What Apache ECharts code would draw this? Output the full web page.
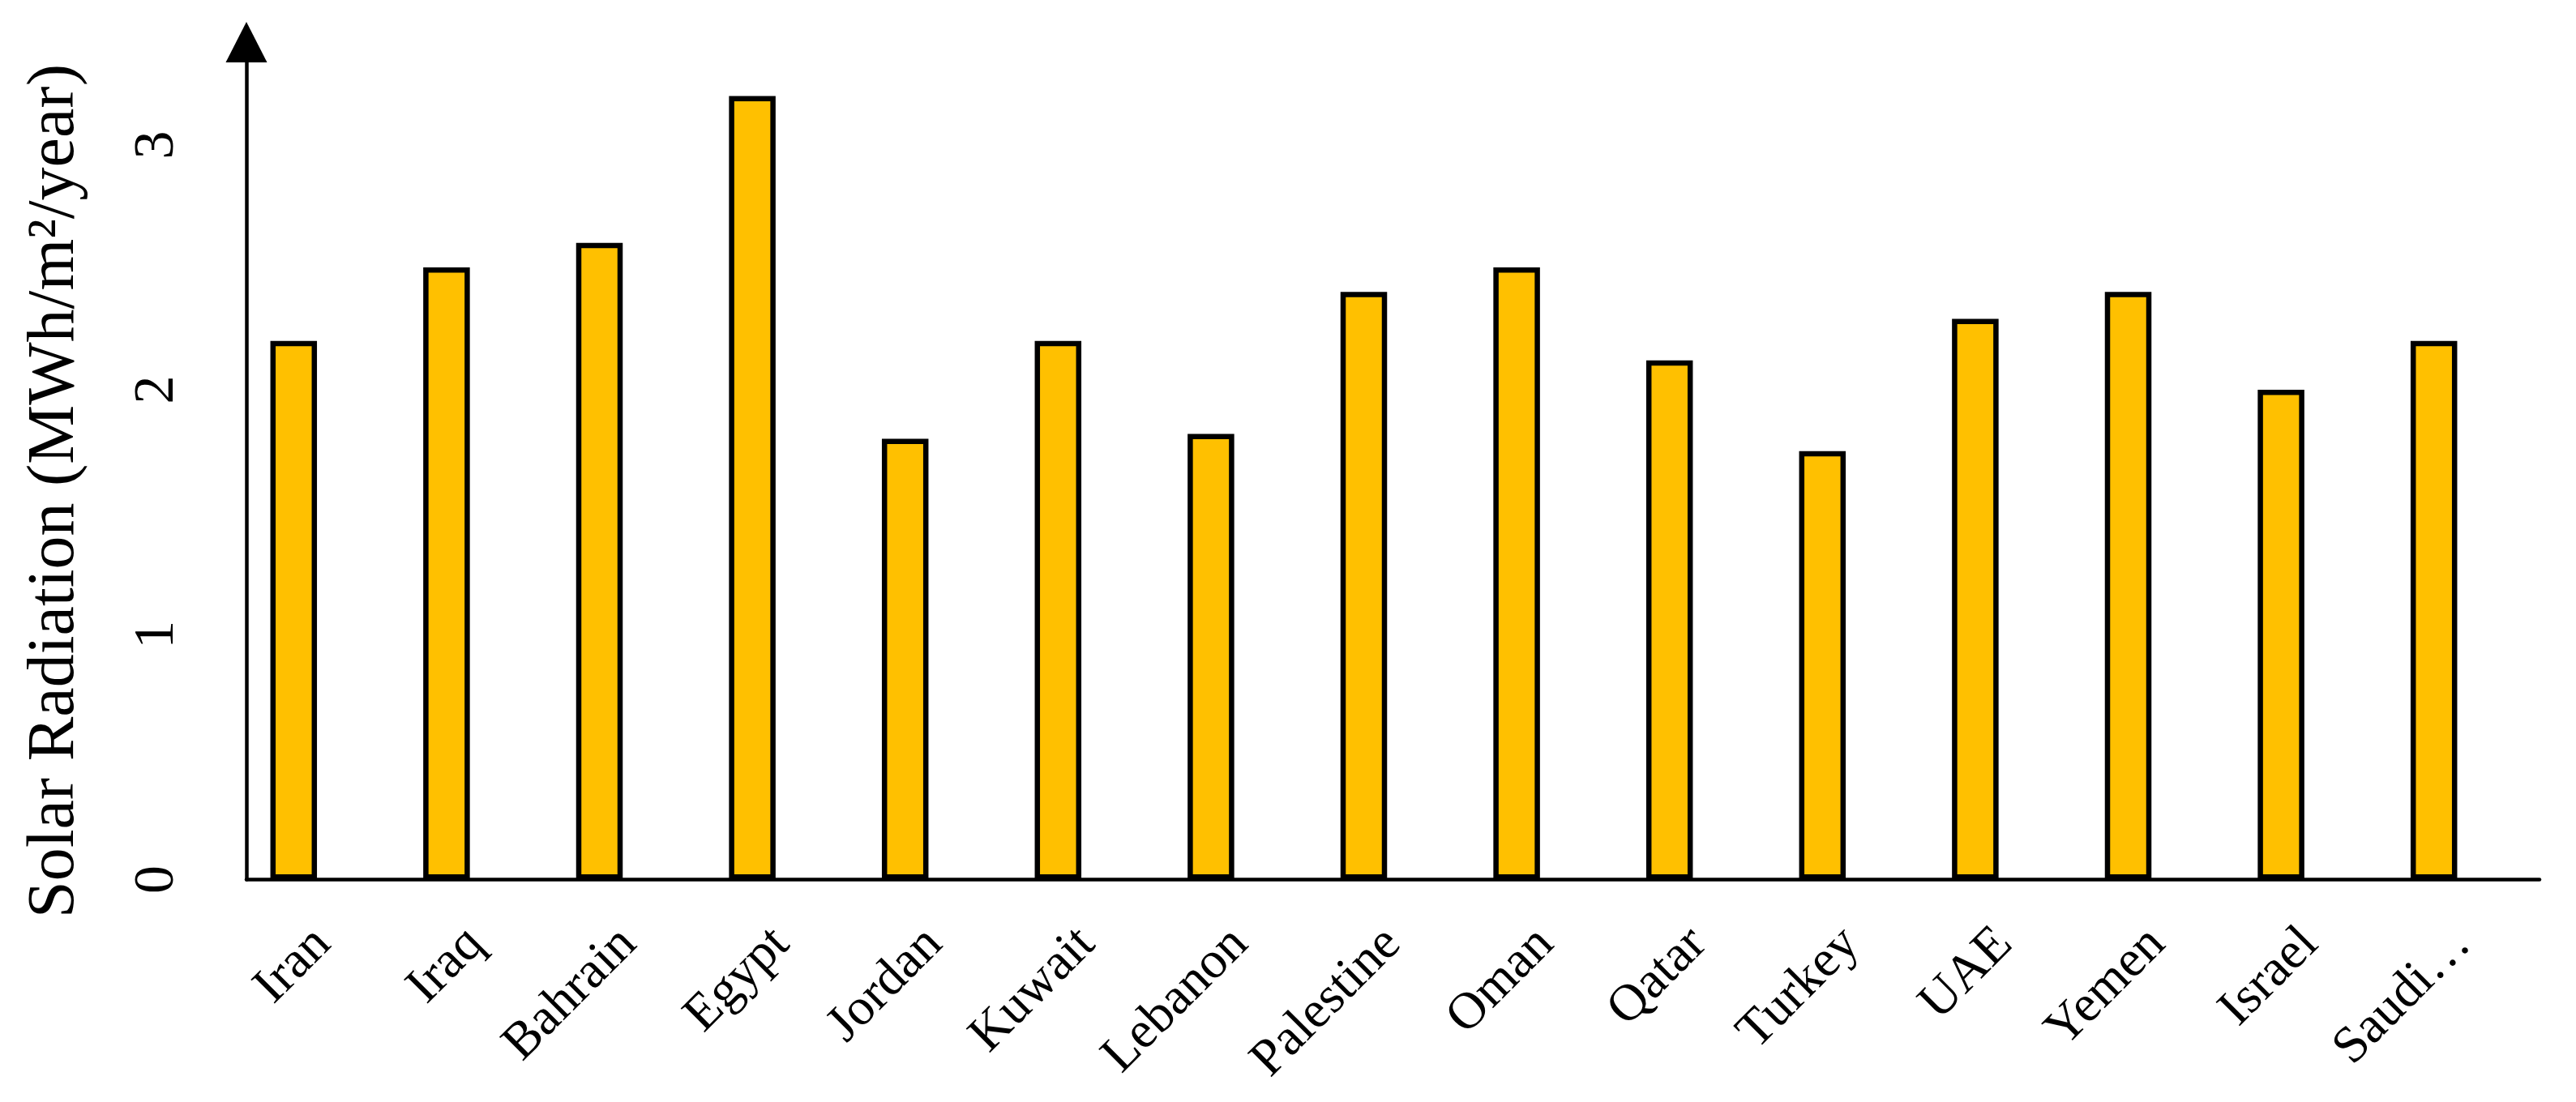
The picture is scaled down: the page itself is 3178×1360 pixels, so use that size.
<!DOCTYPE html>
<html>
<head>
<meta charset="utf-8">
<title>Solar Radiation</title>
<script src="https://cdn.jsdelivr.net/npm/echarts@6.0.0/dist/echarts.min.js"></script>
<style>
	html, body { margin: 0; padding: 0; background: #fff; }
	#chart { width: 3178px; height: 1360px; }
</style>
</head>
<body>
<div id="chart"></div>
<script>
// 数据
var countries = ['Iran', 'Iraq', 'Bahrain', 'Egypt', 'Jordan', 'Kuwait', 'Lebanon', 'Palestine', 'Oman', 'Qatar', 'Turkey', 'UAE', 'Yemen', 'Israel', 'Saudi…'];
var radiation = [2.2, 2.5, 2.6, 3.2, 1.8, 2.2, 1.82, 2.4, 2.5, 2.12, 1.75, 2.29, 2.4, 2.0, 2.2];
var yMin = 0;
var yMax = 3.42;
var yStep = 1;
var yTitle = 'Solar Radiation (MWh/m²/year)';

var font = 'Liberation Serif';

var chart = echarts.init(document.getElementById('chart'));

option = {
	backgroundColor: '#ffffff',
	animation: false,
	// grid 0: bars, grid 1: axes (the axis is drawn a bit to the right of the bars)
	grid: [{
			left: 268,
			width: 2829,
			top: 52,
			bottom: 274.5,
			outerBoundsMode: 'none'
		},
		{
			left: 304,
			width: 2829,
			top: 52,
			bottom: 274.5,
			outerBoundsMode: 'none'
		}
	],
	xAxis: [{
			type: 'category',
			gridIndex: 0,
			data: countries,
			show: false
		},
		{
			type: 'category',
			gridIndex: 1,
			data: countries,
			axisLine: {
				lineStyle: {
					color: '#000',
					width: 4.5
				}
			},
			axisTick: { show: false },
			axisLabel: {
				rotate: 45,
				margin: 70,
				interval: 0,
				color: '#000',
				fontFamily: font,
				fontSize: 64
			}
		}
	],
	yAxis: [{
			type: 'value',
			gridIndex: 0,
			min: yMin,
			max: yMax,
			show: false
		},
		{
			type: 'value',
			gridIndex: 1,
			min: yMin,
			max: yMax,
			interval: yStep,
			axisLine: {
				show: true,
				symbol: ['none', 'triangle'],
				symbolSize: [51, 50],
				lineStyle: {
					color: '#000',
					width: 4.5
				}
			},
			axisTick: { show: false },
			splitLine: { show: false },
			axisLabel: {
				rotate: 90,
				margin: 74,
				showMaxLabel: false,
				color: '#000',
				fontFamily: font,
				fontSize: 70
			}
		}
	],
	// 纵轴标题
	graphic: [{
		type: 'text',
		x: 68,
		y: 606,
		rotation: Math.PI / 2,
		style: {
			text: yTitle,
			fill: '#000',
			fontFamily: font,
			fontSize: 82,
			align: 'center',
			verticalAlign: 'middle'
		}
	}],
	series: [{
		type: 'bar',
		xAxisIndex: 0,
		yAxisIndex: 0,
		data: radiation,
		barWidth: 57.5,
		itemStyle: {
			color: '#FFC000',
			borderColor: '#000',
			borderWidth: 6.5
		}
	}]
};

chart.setOption(option);
</script>
</body>
</html>
